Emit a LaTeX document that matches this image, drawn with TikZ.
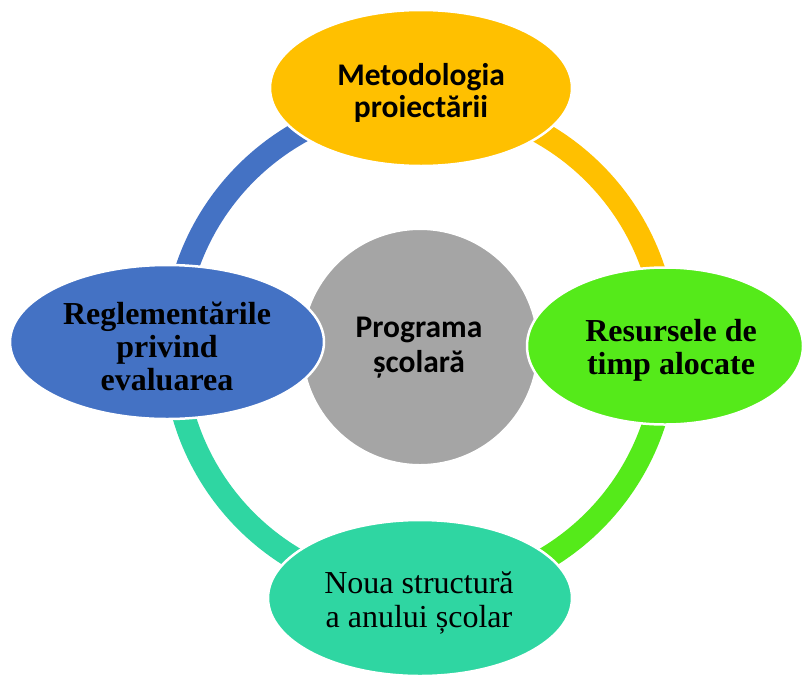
\documentclass[tikz,border=0pt]{standalone}
\usepackage{fontspec}
\setmainfont{Liberation Serif}
\newfontfamily\calib{Carlito}
\usetikzlibrary{shapes.geometric}
\definecolor{cyel}{HTML}{FFC000}
\definecolor{cgrn}{HTML}{55EA1A}
\definecolor{cteal}{HTML}{2FD6A2}
\definecolor{cblue}{HTML}{4472C4}
\definecolor{cgray}{HTML}{A5A5A5}
\begin{document}
\begin{tikzpicture}[x=1pt,y=1pt,
  bub/.style={ellipse, draw=white, line width=2.5pt, inner sep=0pt},
  lbl/.style={align=center, text=black, inner sep=0pt},
  seg/.style={line width=23pt},
  sansb/.style={lbl, font=\calib\bfseries\fontsize{31.5}{32.5}\selectfont},
  sansc/.style={lbl, font=\calib\bfseries\fontsize{31.5}{35}\selectfont},
  serifb/.style={lbl, font=\bfseries\fontsize{32}{33}\selectfont},
  serifr/.style={lbl, font=\fontsize{32}{34.5}\selectfont}]
\useasboundingbox (0,0) rectangle (802,-675);
\coordinate (c) at (420,-347);
\draw[seg, cblue] ([shift={(180:246)}]c) arc[start angle=180,end angle=90,radius=246];
\draw[seg, cyel] ([shift={(90:246)}]c) arc[start angle=90,end angle=0,radius=246];
\draw[seg, cgrn] ([shift={(0:246)}]c) arc[start angle=0,end angle=-90,radius=246];
\draw[seg, cteal] ([shift={(-90:246)}]c) arc[start angle=-90,end angle=-180,radius=246];
\node[circle, fill=cgray, draw=white, line width=2pt, minimum size=236pt, inner sep=0pt] (prog) at (c) {};
\node[sansc] (progtxt) at (419,-348) {Programa\\școlară};
\node[bub, fill=cyel, minimum width=302pt, minimum height=156pt] (top) at (421,-88) {};
\node[sansb] (toptxt) at (421,-93) {Metodologia\\proiectării};
\node[bub, fill=cgrn, minimum width=276pt, minimum height=157pt] (right) at (665,-346) {};
\node[serifb] (righttxt) at (671,-350) {Resursele de\\timp alocate};
\node[bub, fill=cteal, minimum width=304pt, minimum height=156pt] (bottom) at (420,-598) {};
\node[serifr] (bottomtxt) at (419,-603) {Noua structură\\a anului școlar};
\node[bub, fill=cblue, minimum width=314pt, minimum height=154pt] (left) at (167,-342) {};
\node[serifb] (lefttxt) at (167,-346) {Reglementările\\privind\\evaluarea};
\end{tikzpicture}
\end{document}
